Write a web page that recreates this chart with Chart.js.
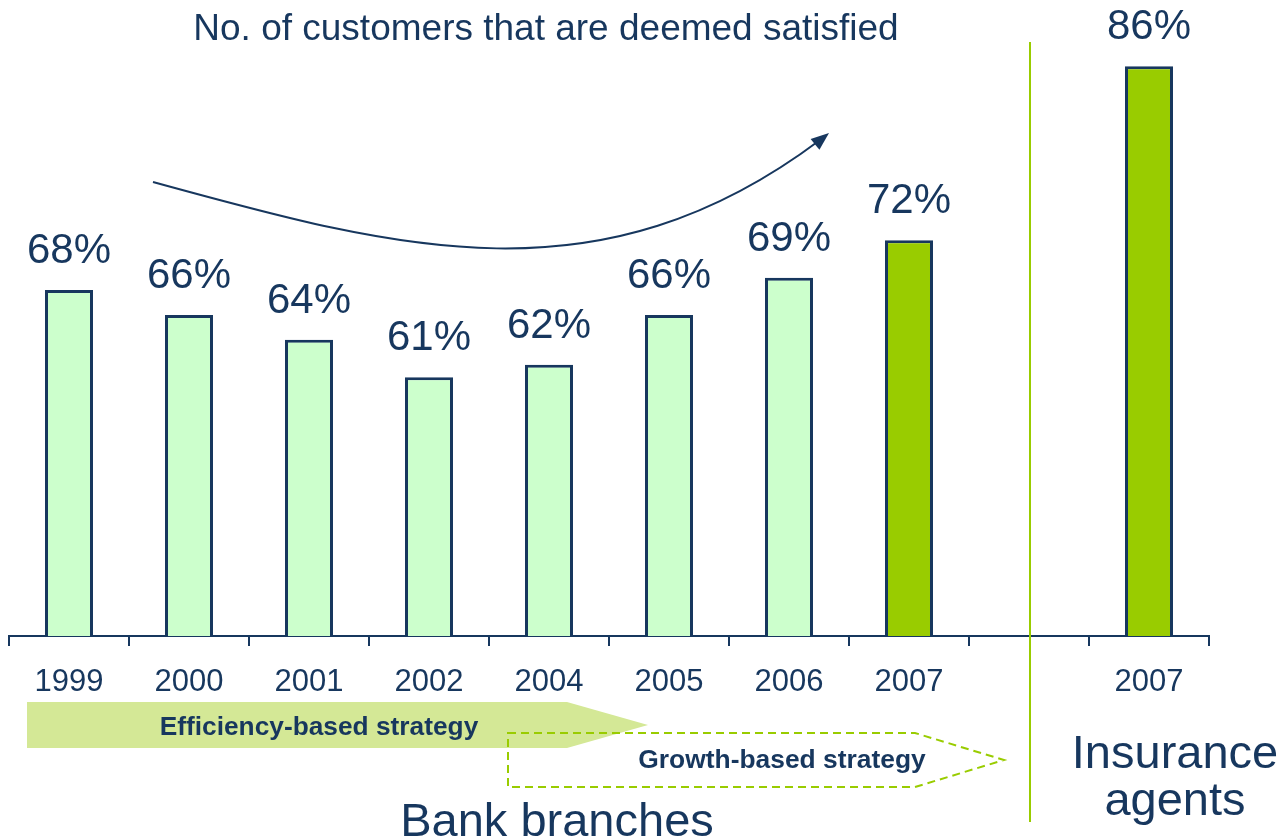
<!DOCTYPE html>
<html>
<head>
<meta charset="utf-8">
<script src="https://cdn.jsdelivr.net/npm/chart.js@4.4.0/dist/chart.umd.min.js"></script>
<style>
  body { margin: 0; background: #fff; }
  #wrap { width: 1280px; height: 840px; }
</style>
</head>
<body>
<div id="wrap"><canvas id="myChart" width="1280" height="840"></canvas></div>
<script>
// survey results, share of satisfied customers in %
var years = ['1999', '2000', '2001', '2002', '2004', '2005', '2006', '2007', '', '2007'];
var satisfied = [68, 66, 64, 61, 62, 66, 69, 72, null, 86];
var chartTitle = 'No. of customers that are deemed satisfied';
var strategies = ['Efficiency-based strategy', 'Growth-based strategy'];
var groups = ['Bank branches', 'Insurance agents'];

var navy = '#17375E';
var lime = '#99CC00';
var pale = '#CCFFCC';
var font = '"Liberation Sans", Arial, sans-serif';

function txt(ctx, s, x, y, size, bold) {
    ctx.font = (bold ? 'bold ' : '') + size + 'px ' + font;
    ctx.fillStyle = navy;
    ctx.textAlign = 'center';
    ctx.textBaseline = 'alphabetic';
    ctx.fillText(s, x, y);
}

var extras = {
    id: 'extras',
    afterDatasetsDraw: function(chart) {
        var ctx = chart.ctx;
        var meta = chart.getDatasetMeta(0);
        ctx.save();
        // percentages over the bars
        for (var i = 0; i < satisfied.length; i++) {
            if (satisfied[i] == null) continue;
            var bar = meta.data[i];
            txt(ctx, satisfied[i] + '%', bar.x, bar.y - 27, 42);
        }
        ctx.restore();
    },
    afterDraw: function(chart) {
        var ctx = chart.ctx;
        var xs = chart.scales.x;
        ctx.save();

        txt(ctx, chartTitle, 546, 40, 37);

        // trend arrow
        ctx.strokeStyle = navy;
        ctx.lineWidth = 2;
        ctx.beginPath();
        ctx.moveTo(153, 182);
        ctx.bezierCurveTo(400, 250, 600, 305, 820, 140);
        ctx.stroke();
        var ang = Math.atan2(133 - 150, 829 - 808);
        ctx.fillStyle = navy;
        ctx.beginPath();
        ctx.moveTo(829, 133);
        ctx.lineTo(829 - 18 * Math.cos(ang) + 7 * Math.sin(ang), 133 - 18 * Math.sin(ang) - 7 * Math.cos(ang));
        ctx.lineTo(829 - 18 * Math.cos(ang) - 7 * Math.sin(ang), 133 - 18 * Math.sin(ang) + 7 * Math.cos(ang));
        ctx.closePath();
        ctx.fill();

        // divider between branches and agents
        var divX = xs.getPixelForValue(8) + 1;
        ctx.strokeStyle = lime;
        ctx.lineWidth = 2;
        ctx.beginPath();
        ctx.moveTo(divX, 42);
        ctx.lineTo(divX, 822);
        ctx.stroke();

        // strategy bands
        ctx.fillStyle = '#D4E896';
        ctx.beginPath();
        ctx.moveTo(27, 702);
        ctx.lineTo(567, 702);
        ctx.lineTo(648, 725);
        ctx.lineTo(567, 748);
        ctx.lineTo(27, 748);
        ctx.closePath();
        ctx.fill();
        txt(ctx, strategies[0], 319, 735, 26.3, true);

        ctx.strokeStyle = lime;
        ctx.lineWidth = 2;
        ctx.setLineDash([8, 5]);
        ctx.beginPath();
        ctx.moveTo(508, 733);
        ctx.lineTo(915, 733);
        ctx.lineTo(1004, 760);
        ctx.lineTo(915, 787);
        ctx.lineTo(508, 787);
        ctx.closePath();
        ctx.stroke();
        ctx.setLineDash([]);
        txt(ctx, strategies[1], 782, 768, 26.4, true);

        // group names
        txt(ctx, groups[0], 557, 836, 47);
        var parts = groups[1].split(' ');
        txt(ctx, parts[0], 1175, 768, 47);
        txt(ctx, parts[1], 1175, 815, 47);

        ctx.restore();
    }
};

var ctx = document.getElementById('myChart').getContext('2d');
var chart = new Chart(ctx, {
    type: 'bar',
    data: {
        labels: years,
        datasets: [{
            data: satisfied,
            backgroundColor: function(c) { return c.dataIndex >= 7 ? lime : pale; },
            borderColor: navy,
            borderWidth: 3,
            barPercentage: 0.4,
            categoryPercentage: 1
        }]
    },
    options: {
        responsive: false,
        animation: false,
        layout: { padding: { top: 40, left: 9, right: 71, bottom: 0 } },
        plugins: {
            legend: { display: false },
            tooltip: { enabled: false }
        },
        scales: {
            x: {
                afterFit: function(scale) { scale.height = 204; },
                grid: {
                    display: true,
                    drawOnChartArea: false,
                    drawTicks: true,
                    tickLength: 10,
                    color: navy,
                    lineWidth: 2
                },
                border: { display: true, color: navy, width: 2 },
                ticks: {
                    color: navy,
                    padding: 18,
                    font: { family: font, size: 31 }
                }
            },
            y: {
                display: false,
                min: 40.2,
                max: 88.1
            }
        }
    },
    plugins: [extras]
});
</script>
</body>
</html>
